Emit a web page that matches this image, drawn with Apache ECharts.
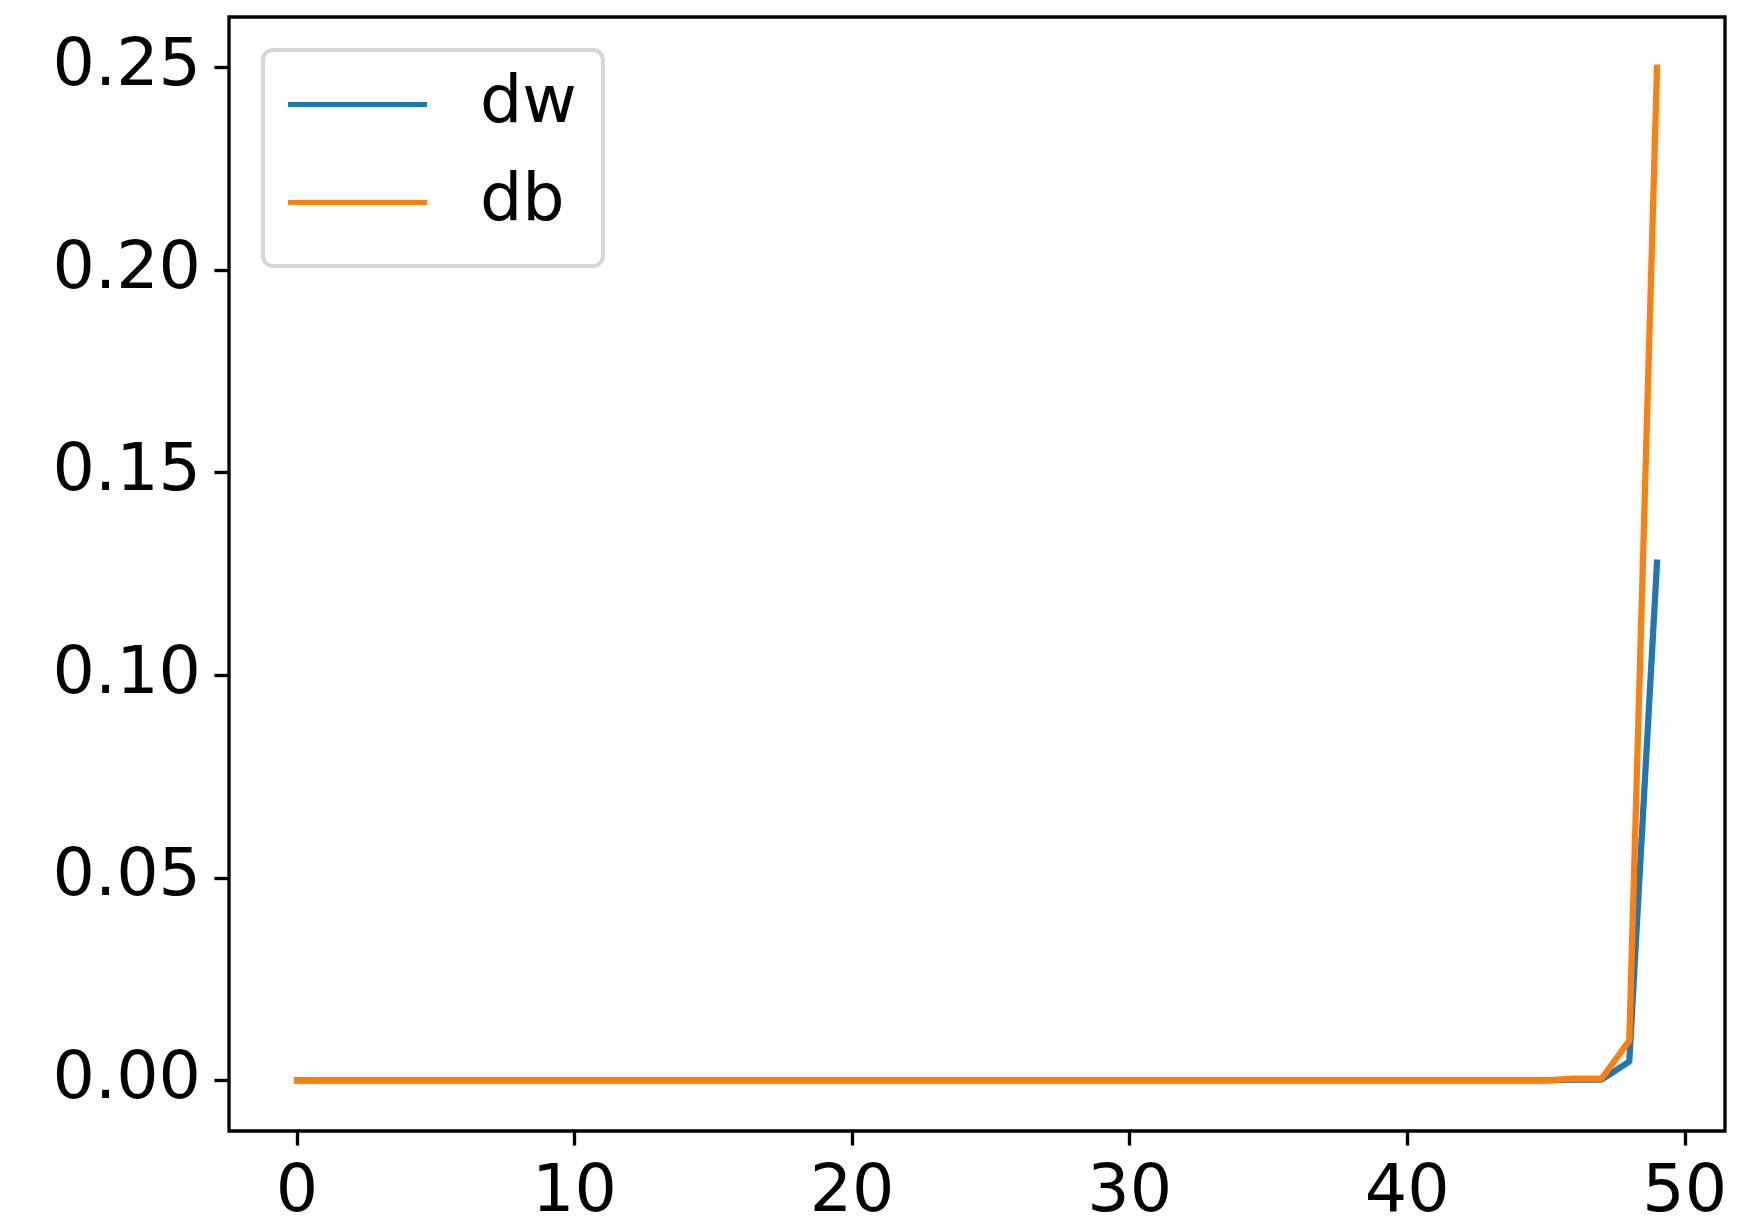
<!DOCTYPE html>
<html>
<head>
<meta charset="utf-8">
<script src="https://cdn.jsdelivr.net/npm/echarts@6/dist/echarts.min.js"></script>
<style>
  html, body { margin: 0; padding: 0; background: #fff; }
  #chart { width: 1742px; height: 1223px; }
</style>
</head>
<body>
<div id="chart"></div>
<script>
// Gradient magnitudes per layer (index 0..49)
const steps = Array.from({ length: 50 }, (_, i) => i);
const dw = [
  0, 0, 0, 0, 0, 0, 0, 0, 0, 0,
  0, 0, 0, 0, 0, 0, 0, 0, 0, 0,
  0, 0, 0, 0, 0, 0, 0, 0, 0, 0,
  0, 0, 0, 0, 0, 0, 0, 0, 0, 0,
  0, 0, 0, 0, 0.0000003, 0.000008, 0.0002, 0.0002, 0.0046, 0.1278
];
const db = [
  0, 0, 0, 0, 0, 0, 0, 0, 0, 0,
  0, 0, 0, 0, 0, 0, 0, 0, 0, 0,
  0, 0, 0, 0, 0, 0, 0, 0, 0, 0,
  0, 0, 0, 0, 0, 0, 0, 0, 0, 0,
  0, 0, 0, 0, 0.0000006, 0.000016, 0.0004, 0.0004, 0.0098, 0.25
];
const xTicks = [0, 10, 20, 30, 40, 50];
const yTicks = [0, 0.05, 0.10, 0.15, 0.20, 0.25];

const FONT = 'DejaVu Sans';
const FS = 66.7;
const SPINE = 3.33;

const chart = echarts.init(document.getElementById('chart'), null, { renderer: 'canvas' });
chart.setOption({
  animation: false,
  backgroundColor: '#ffffff',
  grid: {
    left: 229, top: 17, width: 1496, height: 1114,
    outerBoundsMode: 'none',
    containLabel: false,
    show: true, borderColor: '#000', borderWidth: SPINE, backgroundColor: 'transparent'
  },
  legend: {
    orient: 'vertical',
    left: 263, top: 50,
    padding: [21, 26, 30, 25],
    itemWidth: 139, itemHeight: 5,
    itemGap: 31,
    icon: 'rect',
    backgroundColor: '#ffffff',
    borderColor: '#d6d6d6', borderWidth: 4, borderRadius: 10,
    textStyle: { fontFamily: FONT, fontSize: FS, color: '#000', lineHeight: 67, padding: [0, 0, 0, 48] },
    data: ['dw', 'db']
  },
  xAxis: {
    type: 'value',
    min: -2.45, max: 51.45,
    axisLine: { show: false, onZero: false },
    splitLine: { show: false },
    axisTick: { show: true, inside: false, length: 14.6, lineStyle: { color: '#000', width: SPINE }, customValues: xTicks },
    axisLabel: { fontFamily: FONT, fontSize: FS, color: '#000', margin: 29, customValues: xTicks,
      formatter: v => String(v) }
  },
  yAxis: {
    type: 'value',
    min: -0.0125, max: 0.2625,
    axisLine: { show: false, onZero: false },
    splitLine: { show: false },
    axisTick: { show: true, inside: false, length: 14.6, lineStyle: { color: '#000', width: SPINE }, customValues: yTicks },
    axisLabel: { fontFamily: FONT, fontSize: FS, color: '#000', margin: 28, customValues: yTicks,
      formatter: v => v.toFixed(2) }
  },
  series: [
    { name: 'dw', type: 'line', data: steps.map((s, i) => [s, dw[i]]), showSymbol: false,
      lineStyle: { width: 6.25, color: '#1f77b4', cap: 'square' }, itemStyle: { color: '#1f77b4' } },
    { name: 'db', type: 'line', data: steps.map((s, i) => [s, db[i]]), showSymbol: false,
      lineStyle: { width: 6.25, color: '#ff7f0e', cap: 'square' }, itemStyle: { color: '#ff7f0e' } }
  ]
});
</script>
</body>
</html>
